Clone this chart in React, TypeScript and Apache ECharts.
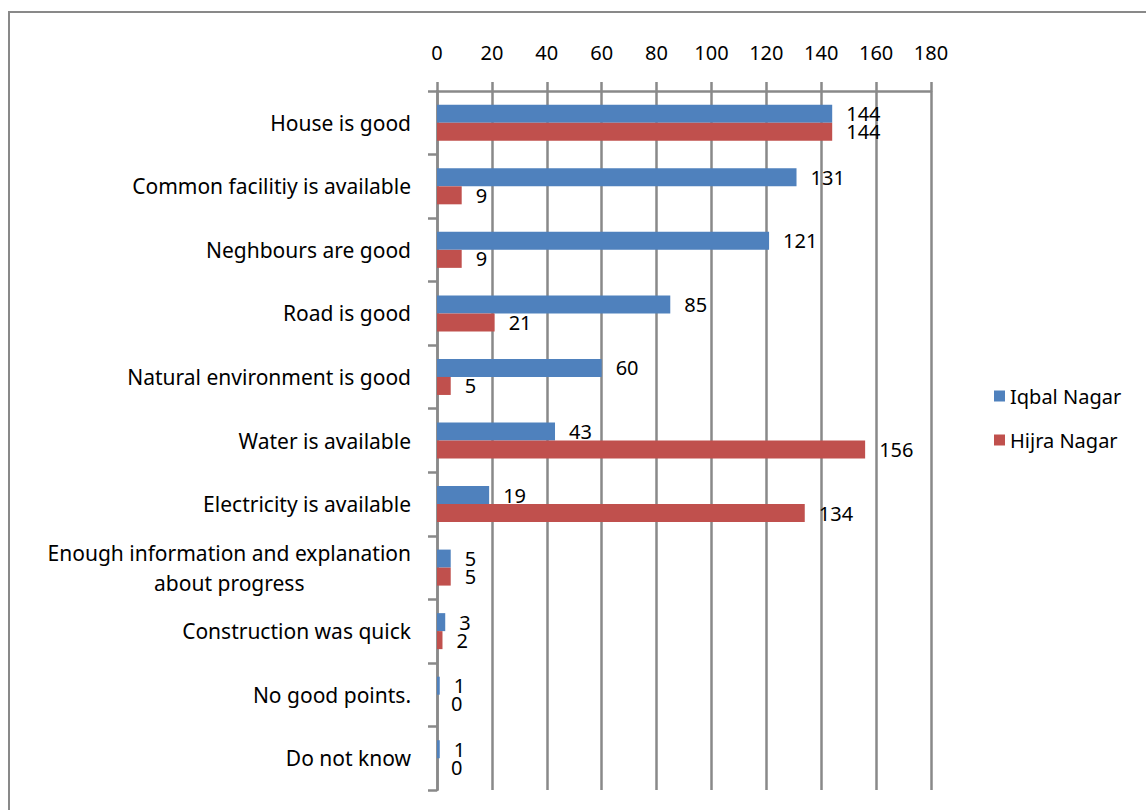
import React, { useEffect, useRef } from "react";
import * as echarts from "echarts";

// Survey answers, listed top to bottom
const categories = [
  "House is good",
  "Common facilitiy is available",
  "Neghbours are good",
  "Road is good",
  "Natural environment is good",
  "Water is available",
  "Electricity is available",
  "Enough information and explanation\nabout progress",
  "Construction was quick",
  "No good points.",
  "Do not know",
];

const iqbalNagar = [144, 131, 121, 85, 60, 43, 19, 5, 3, 1, 1];
const hijraNagar = [144, 9, 9, 21, 5, 156, 134, 5, 2, 0, 0];

const seriesNames = ["Iqbal Nagar", "Hijra Nagar"];
const seriesColors = ["#4F81BD", "#C0504D"];

const axisMin = 0;
const axisMax = 180;
const axisStep = 20;

const FONT = "'Noto Sans', sans-serif";
const GRID_COLOR = "#898989";

export default function App() {
  const ref = useRef<HTMLDivElement>(null);

  useEffect(() => {
    if (!ref.current) return;
    const chart = echarts.init(ref.current, null, { renderer: "svg" });

    const labelStyle = {
      show: true,
      position: "right" as const,
      distance: 14,
      color: "#000",
      fontFamily: FONT,
      fontSize: 20,
    };

    chart.setOption({
      animation: false,
      backgroundColor: "#fff",
      textStyle: { fontFamily: FONT },
      graphic: [
        {
          type: "rect",
          shape: { x: 9, y: 12, width: 1150, height: 830 },
          style: { fill: "none", stroke: GRID_COLOR, lineWidth: 2 },
          silent: true,
        },
      ],
      legend: {
        orient: "vertical",
        left: 989,
        top: 381,
        icon: "rect",
        itemWidth: 11,
        itemHeight: 11,
        itemGap: 24,
        textStyle: { fontFamily: FONT, fontSize: 20, color: "#000" },
        data: seriesNames,
      },
      grid: { left: 437, right: 215, top: 91, bottom: 20, containLabel: false },
      xAxis: {
        type: "value",
        position: "top",
        min: axisMin,
        max: axisMax,
        interval: axisStep,
        axisLine: { show: true, lineStyle: { color: GRID_COLOR, width: 2.5 } },
        axisTick: { show: true, length: 9, lineStyle: { color: GRID_COLOR, width: 2.5 } },
        splitLine: { show: true, lineStyle: { color: GRID_COLOR, width: 2.5 } },
        axisLabel: { color: "#000", fontFamily: FONT, fontSize: 20, margin: 29 },
      },
      yAxis: {
        type: "category",
        inverse: true,
        data: categories,
        axisLine: { show: true, lineStyle: { color: GRID_COLOR, width: 2.5 } },
        axisTick: { show: true, length: 9, lineStyle: { color: GRID_COLOR, width: 2.5 } },
        axisLabel: {
          color: "#000",
          fontFamily: FONT,
          fontSize: 21,
          margin: 26,
          formatter: (v: string) =>
            v
              .split("\n")
              .map((line) => `{c|${line}}`)
              .join("\n"),
          rich: {
            c: { align: "center", fontFamily: FONT, fontSize: 21, color: "#000", lineHeight: 30 },
          },
        },
      },
      series: [
        {
          name: seriesNames[0],
          type: "bar",
          data: iqbalNagar,
          barWidth: 18,
          barGap: "0%",
          itemStyle: { color: seriesColors[0] },
          label: labelStyle,
        },
        {
          name: seriesNames[1],
          type: "bar",
          data: hijraNagar,
          barWidth: 18,
          barGap: "0%",
          itemStyle: { color: seriesColors[1] },
          label: labelStyle,
        },
      ],
    });

    return () => chart.dispose();
  }, []);

  return (
    <div
      ref={ref}
      style={{ position: "fixed", left: 0, top: 0, width: 1146, height: 810 }}
    />
  );
}
